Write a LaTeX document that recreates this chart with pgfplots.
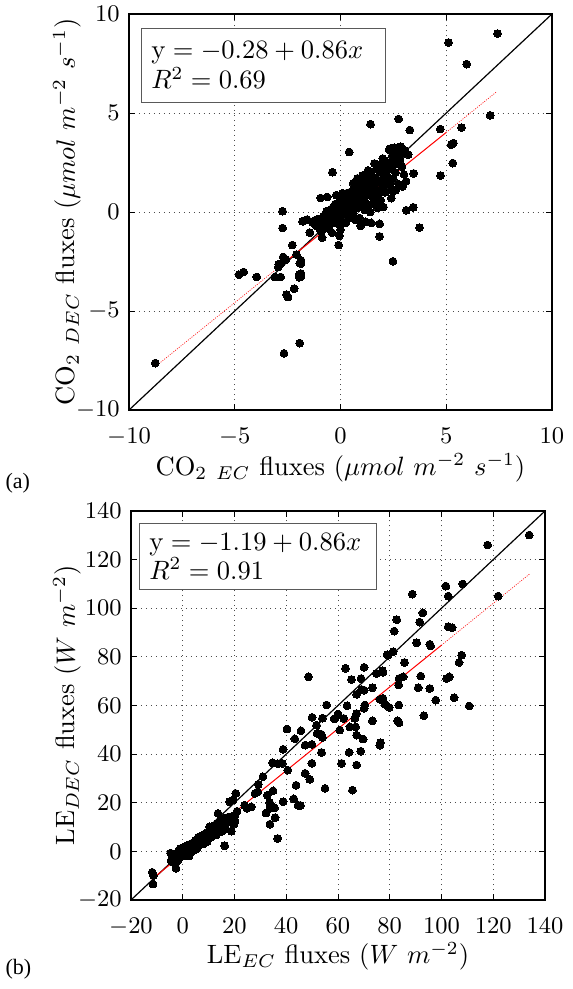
\documentclass[border=0pt]{standalone}
\usepackage{pgfplots}
\pgfplotsset{compat=1.18}
\usepackage{fontspec}
\newfontfamily\timesfont{LiberationSerif}[Extension=.ttf, UprightFont=*-Regular]
\pgfplotsset{
  myaxis/.style={
    scale only axis,
    axis line style={line width=0.6pt},
    every tick/.style={line width=0.3pt, black},
    major tick length=2.26pt,
    tick align=inside,
    xtick pos=both, ytick pos=both,
    grid=major,
    major grid style={dash pattern=on 0.38pt off 1.5pt, line width=0.34pt, black!70},
    tick label style={font=\fontsize{8.9}{10.7}\selectfont},
    xticklabel style={anchor=base, yshift=-12.8pt},
    label style={font=\fontsize{10}{12}\selectfont},
    xlabel style={anchor=base},
    ylabel style={anchor=south, inner sep=0pt},
    clip=true,
  },
  dots/.style={only marks, mark=*, mark size=1.48pt, mark options={fill=black, draw=black, line width=0pt}},
  redsolid/.style={red, line width=0.38pt},
  reddot/.style={red!90, line width=0.26pt, dash pattern=on 0.38pt off 0.5pt},
}
\begin{document}
\begin{tikzpicture}[x=0.37736pt,y=0.37736pt]
\useasboundingbox (0,0) rectangle (573,-989);
% ---------------- (a) CO2 ----------------
\begin{axis}[myaxis,
  at={(48.68pt,-154.72pt)}, anchor=south west,
  width=159.62pt, height=149.43pt,
  xmin=-10, xmax=10, ymin=-10, ymax=10,
  xtick={-10,-5,0,5,10}, ytick={-10,-5,0,5,10},
  xlabel={CO$_2$ $_{EC}$ fluxes ($\mu mol\ m^{-2}\ s^{-1}$)},
  ylabel={CO$_2$ $_{DEC}$ fluxes ($\mu mol\ m^{-2}\ s^{-1}$)},
  xlabel style={at={(rel axis cs:0.5,-0.1642)}},
  ylabel style={at={(rel axis cs:-0.1111,0.5)}},
]
\addplot[black, line width=0.45pt] coordinates {(-10,-10) (10,10)};
\addplot[dots] coordinates {
(7.43,9.01) (5.11,8.56) (5.97,7.47) (7.08,4.88) (2.75,4.70) (3.28,4.14) (4.72,4.19) (5.72,4.26)
(5.34,3.48) (5.24,3.40) (5.31,2.47) (4.73,1.84) (3.46,1.95) (1.42,4.44) (0.41,3.03) (-0.38,2.01)
(-2.74,0.04) (-2.74,-0.81) (-0.94,0.71) (-0.63,0.76) (-1.76,-0.45) (-1.58,-0.38) (-1.21,-0.42)
(-1.45,-1.04) (-0.98,-0.86) (-0.87,-1.29) (-0.09,-1.67) (-2.28,-1.67) (1.85,-1.23) (2.48,-2.49)
(3.74,-0.79) (3.11,0.09) (3.44,0.24) (2.03,0.25) (-1.87,-2.44) (-1.87,-2.61) (-1.87,-3.11)
(-1.87,-3.25) (-2.71,-2.27) (-2.58,-2.40) (-2.83,-2.61) (-2.94,-2.78) (-3.96,-3.28) (-3.10,-3.28)
(-2.83,-3.28) (-8.76,-7.63) (-4.80,-3.16) (-4.58,-3.03) (-2.92,-2.64) (-2.08,-2.15) (-1.92,-2.58)
(-1.95,-3.16) (-1.95,-3.30) (-2.19,-3.87) (-2.55,-4.17) (-2.48,-4.29) (-1.93,-6.62) (-2.67,-7.14)
(-1.79,-0.47) (-1.60,-0.40) (2.94,1.29) (2.45,1.06) (2.35,3.20) (2.55,3.25) (2.70,3.05) (2.90,2.90)
(2.80,2.60)
(-1.30,-0.55) (-1.15,-0.70) (-1.05,-0.35) (-0.95,-0.80) (-0.85,-0.50) (-0.80,-0.20) (-0.90,-1.00)
(-0.75,-0.65) (-0.70,-0.30) (-0.65,0.05) (-0.60,-0.45) (-0.55,-0.85) (-0.50,0.10) (-0.45,-0.20)
(-0.40,-0.55) (-0.35,0.25) (-0.30,-0.05) (-0.40,-1.05)
(-0.25,0.40) (-0.20,-0.35) (-0.15,0.15) (-0.10,-0.60) (-0.05,0.55) (0.00,0.05) (0.05,-0.25)
(0.10,0.30) (0.15,0.75) (0.20,-0.10) (-0.20,0.85) (0.00,-0.90) (0.10,0.95) (-0.05,-1.20)
(0.25,0.45) (0.30,0.10) (0.35,0.70) (0.40,-0.30) (0.45,1.00) (0.50,0.35) (0.55,0.60) (0.60,-0.05)
(0.65,1.20) (0.70,0.50) (0.30,0.95) (0.40,0.25) (0.55,0.85) (0.60,1.45) (0.25,-0.55) (0.70,-0.40)
(0.45,0.05)
(0.75,0.90) (0.80,0.20) (0.85,1.30) (0.90,0.65) (0.95,1.05) (1.00,0.40) (1.05,1.55) (1.10,0.80)
(1.15,0.10) (1.20,1.20) (0.80,1.70) (0.90,-0.30) (1.00,0.95) (1.05,1.85) (1.15,0.55) (0.75,0.35)
(1.10,1.40) (0.95,-0.70) (1.20,-0.50)
(1.25,0.85) (1.30,1.60) (1.35,0.35) (1.40,1.05) (1.45,2.00) (1.50,1.30) (1.55,0.70) (1.60,1.75)
(1.65,1.10) (1.70,2.20) (1.30,2.10) (1.40,0.00) (1.50,0.90) (1.55,1.55) (1.60,2.45) (1.35,1.30)
(1.45,-0.55) (1.65,0.40) (1.25,1.85)
(1.75,1.45) (1.80,0.95) (1.85,2.05) (1.90,1.60) (1.95,2.40) (2.00,1.20) (2.05,1.85) (2.10,2.60)
(2.15,1.50) (2.20,2.10) (1.80,2.30) (1.90,0.60) (2.00,2.70) (2.10,1.00) (1.75,0.20) (2.15,2.35)
(1.85,-0.60)
(2.25,1.75) (2.30,2.50) (2.35,1.30) (2.40,2.20) (2.45,2.85) (2.50,1.65) (2.55,2.40) (2.60,2.00)
(2.70,2.65) (2.75,1.40) (2.40,0.70) (2.60,1.10) (2.30,3.15) (2.55,3.00)
(2.90,2.30) (3.00,1.90) (3.10,1.55) (2.85,3.30) (3.05,3.10) (3.20,2.90)
};
\addplot[redsolid] coordinates {(-2.9,-2.77) (5.0,4.02)};
\addplot[reddot] coordinates {(-8.76,-7.81) (-2.9,-2.77)};
\addplot[reddot] coordinates {(5.0,4.02) (7.39,6.08)};
\node[draw=black!65, line width=0.38pt, fill=white, anchor=north west, align=left,
  text width=84.5pt, inner xsep=3.77pt, inner ysep=1pt, minimum height=27.9pt,
  font=\fontsize{10.15}{11.3}\selectfont]
  at (rel axis cs:0.028,0.965) {$\mathrm{y} = -0.28 + 0.86x$\\$R^2 = 0.69$};
\end{axis}
\node[anchor=west, inner sep=0pt] at (5,-483) {\timesfont\fontsize{8.3}{10}\selectfont (a)};
% ---------------- (b) LE ----------------
\begin{axis}[myaxis,
  at={(49.43pt,-339.62pt)}, anchor=south west,
  width=156.23pt, height=146.79pt,
  xmin=-20, xmax=140, ymin=-20, ymax=140,
  xtick={-20,0,...,140}, ytick={-20,0,...,140},
  xlabel={LE$_{EC}$ fluxes ($W\ m^{-2}$)},
  ylabel={LE$_{DEC}$ fluxes ($W\ m^{-2}$)},
  xlabel style={at={(rel axis cs:0.5,-0.1645)}},
  ylabel style={at={(rel axis cs:-0.1184,0.5)}},
]
\addplot[black, line width=0.45pt] coordinates {(-20,-20) (140,140)};
\addplot[dots] coordinates {
(-11.8,-8.6) (-11.3,-9.9) (-11.5,-13.4) (-4.7,-0.7)
(-4.5,-3.8) (-4.0,-2.5) (-3.5,-4.6) (-3.2,-1.8) (-3.0,-3.3) (-2.6,-7.0) (-2.5,-2.2) (-2.2,-0.8)
(-2.0,-3.9) (-1.8,-1.5) (-1.5,0.5) (-1.3,-2.6) (-1.0,-0.3) (-0.8,1.2) (-0.6,-1.4) (-0.4,0.3)
(-0.2,-2.0) (0.0,0.8) (0.2,-0.6) (0.4,1.6) (0.5,-1.2) (0.7,0.2) (0.9,2.0) (1.0,-0.4) (1.2,1.0)
(1.4,-1.8) (1.6,0.6) (1.8,2.4) (2.0,0.0) (2.2,1.5) (2.4,-1.9) (2.6,2.8) (2.8,0.9) (3.0,1.9)
(3.2,-0.5) (3.5,3.3) (3.7,1.2) (4.0,2.4) (4.2,0.3) (4.5,3.6) (4.7,1.8) (5.0,4.4) (5.2,2.8)
(5.5,1.1) (5.8,3.9) (6.0,5.8) (6.3,2.6) (6.6,4.6) (7.0,3.4) (7.3,6.4) (7.6,5.0) (8.0,3.0)
(8.3,6.0) (8.6,7.2) (9.0,5.3) (9.4,4.0) (9.8,7.6) (10.2,6.2) (10.4,10.1) (10.6,8.4) (11.0,5.8)
(11.4,9.6) (11.8,7.0) (12.2,10.6) (12.6,8.6) (13.0,6.8) (13.6,15.6) (13.5,11.4) (14.0,9.4)
(14.4,12.8) (14.8,10.2) (15.2,8.2) (15.6,13.4) (16.2,2.3) (16.0,11.0) (16.6,9.4) (17.1,11.9)
(17.4,14.0) (18.1,20.4) (18.8,8.3) (18.4,12.6) (19.0,14.4) (19.4,21.1) (19.8,11.2) (20.2,14.9)
(20.2,12.5) (20.5,23.8) (21.0,16.5)
(23.9,19.0) (24.8,17.7) (26.5,18.3) (27.9,23.8) (29.0,24.5) (31.0,30.7) (29.2,27.6) (32.7,23.1)
(34.9,24.9) (33.6,20.1) (33.7,17.7) (32.2,15.8) (35.5,17.9) (35.7,13.9) (33.7,11.2) (36.7,5.3)
(34.7,36.4) (36.8,36.0) (38.5,36.2) (38.8,42.0) (40.3,50.3) (40.6,33.4) (38.8,20.4) (43.3,46.3)
(45.7,49.6) (47.3,43.7) (49.9,44.0) (49.9,36.2) (47.3,32.1) (49.1,29.6) (43.8,27.2) (42.9,21.6)
(44.6,19.0) (45.5,18.9) (55.0,25.9) (50.0,55.1) (51.7,51.9) (54.0,54.8) (51.9,48.5) (53.3,47.8)
(54.0,46.9) (53.6,40.7) (55.6,60.2) (58.8,54.7) (60.0,56.5) (60.7,49.9) (61.4,36.2) (63.5,59.9)
(62.2,54.7) (67.2,56.7) (66.5,54.7) (64.6,51.2) (66.8,51.2) (67.2,47.8) (69.7,46.2) (64.3,40.7)
(68.8,41.2) (67.2,35.5) (65.6,25.2) (73.3,53.7) (76.4,44.7) (76.2,43.7) (48.6,71.8) (62.9,75.3)
(65.2,70.7) (70.1,75.7) (68.9,71.1) (67.2,64.6) (69.1,66.6) (70.1,66.3) (58.5,54.5) (52.2,48.6)
(53.5,48.2)
(79.3,80.7) (81.3,82.1) (85.7,77.7) (74.9,73.2) (77.2,74.3) (77.4,73.6) (73.3,67.3) (70.4,60.2)
(70.1,58.8) (76.2,62.5) (77.4,62.9) (78.2,60.5) (79.8,59.2) (83.4,68.4) (83.6,71.1) (85.2,71.8)
(83.5,60.2) (83.0,53.7) (83.6,52.9) (91.0,67.3) (92.0,72.1) (93.2,55.8) (95.5,67.0) (97.8,62.2)
(102.0,71.1) (103.0,71.8) (104.9,63.2) (106.8,77.7) (107.8,80.7) (110.7,59.8) (133.9,130.1)
(117.8,126.0) (108.2,110.0) (121.9,105.0) (101.7,109.1) (102.6,105.0) (88.7,105.8) (92.8,98.1)
(91.6,94.3) (82.7,95.3) (81.7,90.6) (90.4,85.8) (95.5,85.2) (95.8,84.5) (102.6,92.4) (104.1,92.0)
(79.0,80.9)
};
\addplot[redsolid] coordinates {(-12,-11.51) (100,84.81)};
\addplot[reddot] coordinates {(100,84.81) (134,114.05)};
\node[draw=black!65, line width=0.38pt, fill=white, anchor=north west, align=left,
  text width=81.9pt, inner xsep=3.77pt, inner ysep=1pt, minimum height=24.9pt,
  font=\fontsize{10.15}{10.8}\selectfont]
  at (rel axis cs:0.019,0.969) {$\mathrm{y} = -1.19 + 0.86x$\\$R^2 = 0.91$};
\end{axis}
\node[anchor=west, inner sep=0pt] at (5,-969) {\timesfont\fontsize{8.3}{10}\selectfont (b)};
\end{tikzpicture}
\end{document}
